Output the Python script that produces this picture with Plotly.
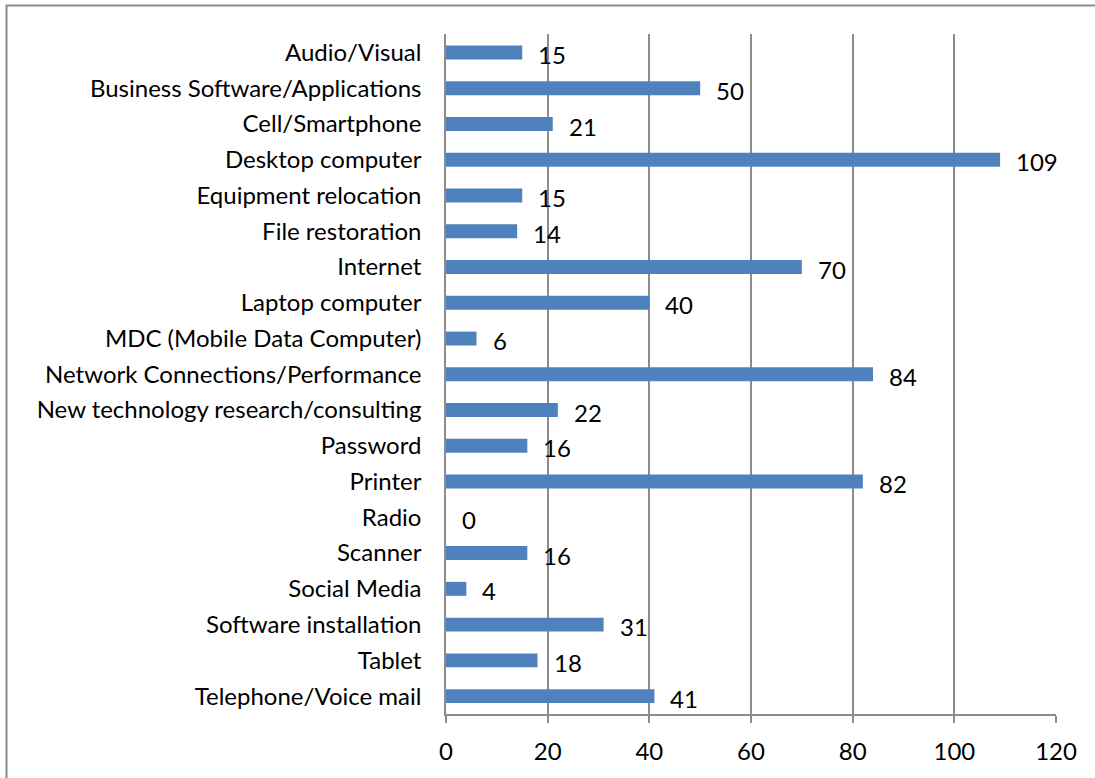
import plotly.graph_objects as go

categories = ["Audio/Visual", "Business Software/Applications", "Cell/Smartphone",
              "Desktop computer", "Equipment relocation", "File restoration", "Internet",
              "Laptop computer", "MDC (Mobile Data Computer)", "Network Connections/Performance",
              "New technology research/consulting", "Password", "Printer", "Radio", "Scanner",
              "Social Media", "Software installation", "Tablet", "Telephone/Voice mail"]
values = [15, 50, 21, 109, 15, 14, 70, 40, 6, 84, 22, 16, 82, 0, 16, 4, 31, 18, 41]
x_ticks = [0, 20, 40, 60, 80, 100, 120]

W, H = 1095, 778
L, R, T, B = 446, 1056, 34, 714
FONT = "Lato, Open Sans, sans-serif"
FS = 24

fig = go.Figure()
fig.add_trace(go.Bar(
    x=values, y=categories, orientation="h",
    marker=dict(color="#4F81BD", line=dict(width=0)),
    hoverinfo="x+y",
))

for c, v in zip(categories, values):
    fig.add_annotation(x=v, y=c, text=str(v), showarrow=False, xanchor="left",
                       xshift=14, yshift=-2, font=dict(size=FS, color="#000", family=FONT))

def px(x):
    return (x - L) / (R - L)

def py(y):
    return (B - y) / (B - T)

fig.add_shape(type="rect", xref="paper", yref="paper",
              x0=px(6.5), x1=px(1110), y0=py(790), y1=py(5.5),
              line=dict(color="#8c8c8c", width=2), layer="below")

fig.update_layout(
    width=W, height=H,
    margin=dict(l=L, r=W - R, t=T, b=H - B, pad=0, autoexpand=False),
    paper_bgcolor="white", plot_bgcolor="white",
    bargap=0.61,
    showlegend=False,
    font=dict(family=FONT, size=FS, color="#000"),
    xaxis=dict(range=[0, 120], tickvals=x_ticks, showgrid=True, gridcolor="#8c8c8c",
               gridwidth=1.5, zeroline=False, showline=True, linecolor="#8c8c8c", linewidth=1.5,
               ticks="outside", ticklen=7, tickcolor="#8c8c8c", tickwidth=1.5, ticklabelstandoff=8,
               tickfont=dict(size=FS, family=FONT), mirror=False),
    yaxis=dict(autorange="reversed", showgrid=False, zeroline=False, showline=True,
               linecolor="#8c8c8c", linewidth=1.5, ticks="", ticklabelstandoff=18,
               tickfont=dict(size=FS, family=FONT)),
)

fig.write_html("out.html", config={"displayModeBar": False},
               post_script="document.body.style.margin='0px';document.body.style.overflow='hidden';")
